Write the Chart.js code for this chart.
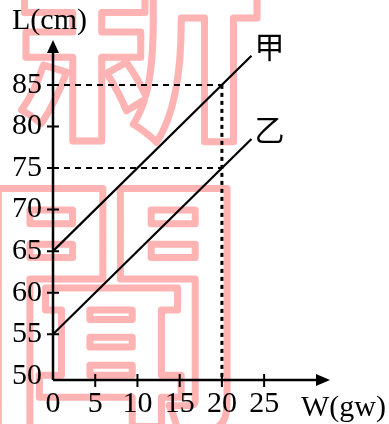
<!DOCTYPE html>
<html>
<head>
<meta charset="utf-8">
<script src="https://cdn.jsdelivr.net/npm/chart.js@4.4.1/dist/chart.umd.min.js"></script>
<style>
  html, body { margin: 0; padding: 0; background: #fff; }
  #wrap { width: 389px; height: 424px; position: relative; }
</style>
</head>
<body>
<div id="wrap"><canvas id="grafico"></canvas></div>
<script>
// dados do gráfico
const xTicks = [0, 5, 10, 15, 20, 25];
const yTicks = [50, 55, 60, 65, 70, 75, 80, 85];
const seriesNames = ['甲', '乙'];
const jiaX = [0, 23.5];
const jiaY = [65, 88.5];
const yiX = [0, 23.5];
const yiY = [55, 78.5];
// linhas guia pontilhadas em W = 20
const guideW = 20;
const guideJia = 85;
const guideYi = 75;

const X_MAX = 32.8;
const Y_MIN = 49.5;
const Y_MAX = 90.4;

const SERIF = '"Liberation Serif", "DejaVu Serif", serif';
const CJK = '"Noto Sans CJK TC", "Noto Sans CJK SC", sans-serif';

function pts(xs, ys) {
    return xs.map((x, i) => ({ x: x, y: ys[i] }));
}

// marca d'água rosa (texto vazado)
const marcaDagua = {
    id: 'marcaDagua',
    beforeDraw(chart) {
        const ctx = chart.ctx;
        ctx.save();
        ctx.strokeStyle = '#ffb3b3';
        ctx.lineWidth = 7;
        ctx.lineJoin = 'round';
        ctx.font = 'bold 250px ' + CJK;
        ctx.textAlign = 'center';
        ctx.textBaseline = 'alphabetic';
        ctx.strokeText('新', 140, 120);
        ctx.font = 'bold 270px ' + CJK;
        ctx.strokeText('聞', 112, 410);
        ctx.restore();
    }
};

// eixos com setas, marcas e rótulos
const eixos = {
    id: 'eixos',
    afterDatasetsDraw(chart) {
        const ctx = chart.ctx;
        const xs = chart.scales.x;
        const ys = chart.scales.y;
        const a = chart.chartArea;
        const x0 = xs.getPixelForValue(0);
        const yb = a.bottom;
        ctx.save();
        ctx.strokeStyle = '#000';
        ctx.fillStyle = '#000';
        ctx.lineWidth = 2.5;
        ctx.beginPath();
        ctx.moveTo(x0, yb);
        ctx.lineTo(x0, a.top + 8);
        ctx.moveTo(x0, yb);
        ctx.lineTo(a.right - 8, yb);
        ctx.stroke();
        // setas
        ctx.beginPath();
        ctx.moveTo(x0, a.top);
        ctx.lineTo(x0 - 6, a.top + 13);
        ctx.lineTo(x0 + 6, a.top + 13);
        ctx.closePath();
        ctx.fill();
        ctx.beginPath();
        ctx.moveTo(a.right, yb);
        ctx.lineTo(a.right - 14, yb - 6);
        ctx.lineTo(a.right - 14, yb + 6);
        ctx.closePath();
        ctx.fill();
        // marcas
        ctx.lineWidth = 2;
        ctx.beginPath();
        yTicks.forEach(v => {
            if (v === 50) return;
            const p = ys.getPixelForValue(v);
            ctx.moveTo(x0 - 6, p);
            ctx.lineTo(x0 + 6, p);
        });
        xTicks.forEach(v => {
            if (v === 0) return;
            const p = xs.getPixelForValue(v);
            ctx.moveTo(p, yb - 6);
            ctx.lineTo(p, yb + 7);
        });
        ctx.stroke();
        // títulos dos eixos
        ctx.font = '30px ' + SERIF;
        ctx.textAlign = 'left';
        ctx.textBaseline = 'alphabetic';
        ctx.fillText('L(cm)', 12, 29);
        ctx.fillText('W(gw)', 301, 416);
        // nomes das séries
        ctx.font = '30px ' + CJK;
        ctx.textAlign = 'center';
        ctx.textBaseline = 'middle';
        const ends = [[jiaX, jiaY], [yiX, yiY]];
        seriesNames.forEach((n, i) => {
            const ex = ends[i][0][ends[i][0].length - 1];
            const ey = ends[i][1][ends[i][1].length - 1];
            ctx.fillText(n, xs.getPixelForValue(ex) + 18, ys.getPixelForValue(ey) - 9);
        });
        ctx.restore();
    }
};

const ctx = document.getElementById('grafico');
new Chart(ctx, {
    type: 'scatter',
    data: {
        datasets: [
            { label: seriesNames[0], data: pts(jiaX, jiaY), showLine: true, borderColor: '#000', borderWidth: 2.2, pointRadius: 0 },
            { label: seriesNames[1], data: pts(yiX, yiY), showLine: true, borderColor: '#000', borderWidth: 2.2, pointRadius: 0 },
            { label: 'h85', data: [{ x: 0, y: guideJia }, { x: guideW, y: guideJia }], showLine: true, borderColor: '#000', borderWidth: 2, borderDash: [6, 5], pointRadius: 0 },
            { label: 'h75', data: [{ x: 0, y: guideYi }, { x: guideW, y: guideYi }], showLine: true, borderColor: '#000', borderWidth: 2, borderDash: [6, 5], pointRadius: 0 },
            { label: 'v20', data: [{ x: guideW, y: guideJia }, { x: guideW, y: Y_MIN }], showLine: true, borderColor: '#000', borderWidth: 3, borderDash: [4, 4], pointRadius: 0 }
        ]
    },
    options: {
        responsive: true,
        maintainAspectRatio: false,
        animation: false,
        layout: { padding: { top: 40, right: 59, left: 0, bottom: 0 } },
        plugins: { legend: { display: false }, tooltip: { enabled: false } },
        scales: {
            x: {
                type: 'linear',
                min: 0,
                max: X_MAX,
                grid: { display: false, drawTicks: false },
                border: { display: false },
                afterBuildTicks: s => { s.ticks = xTicks.map(v => ({ value: v })); },
                afterFit: s => { s.height = 44; },
                ticks: { color: '#000', font: { family: SERIF, size: 30 }, padding: 6, maxRotation: 0, autoSkip: false }
            },
            y: {
                type: 'linear',
                min: Y_MIN,
                max: Y_MAX,
                grid: { display: false, drawTicks: false },
                border: { display: false },
                afterBuildTicks: s => { s.ticks = yTicks.map(v => ({ value: v })); },
                afterFit: s => { s.width = 53; },
                ticks: { color: '#000', font: { family: SERIF, size: 30 }, padding: 11, autoSkip: false }
            }
        }
    },
    plugins: [marcaDagua, eixos]
});
</script>
</body>
</html>
